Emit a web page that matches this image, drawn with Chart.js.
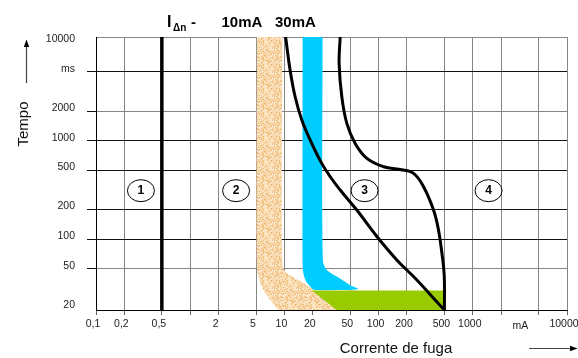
<!DOCTYPE html>
<html><head><meta charset="utf-8">
<script src="https://cdn.jsdelivr.net/npm/chart.js@4.4.1/dist/chart.umd.min.js"></script>
<style>html,body{margin:0;padding:0;background:#fff;}canvas{display:block;}</style>
</head><body>
<canvas id="c" width="578" height="358"></canvas>
<script>
// ---------- axis ticks ----------
const xTicks = [0.1, 0.2, 0.5, 1, 2, 5, 10, 20, 50, 100, 200, 500, 1000, 2000, 5000, 10000];
const xTickLabels = ['0,1', '0,2', '0,5', '', '2', '5', '10', '20', '50', '100', '200', '500', '1000', '', '', '10000'];
const yTicks = [20, 50, 100, 200, 500, 1000, 2000, 5000, 10000];
const yTickLabels = ['20', '50', '100', '200', '500', '1000', '2000', 'ms', '10000'];
const X_MIN = 0.1, X_MAX = 10000;   // mA
const Y_MIN = 19, Y_MAX = 11300;    // ms

// ---------- series (mA / ms) ----------
const limit05_mA = [0.5, 0.5];
const limit05_ms = [Y_MIN, Y_MAX];

const curveA_mA = [10.3, 11.5, 13.0, 15.3, 19.5, 24.9, 31.3, 39.1, 58.7, 95.9, 156, 255, 383, 500];
const curveA_ms = [Y_MAX, 5200, 2790, 1620, 937, 587, 417, 315, 197, 106, 61.3, 38.4, 25, Y_MIN];

const curveB_mA = [39.1, 38.1, 40.7, 46.0, 56.4, 75.1, 113, 169, 235, 300, 383, 432, 470, 497, 500];
const curveB_ms = [Y_MAX, 6085, 2788, 1497, 937, 660, 543, 508, 465, 340, 197, 124, 71.7, 43.2, Y_MIN];

const band10_mA = [5.1, 5.1, 5.42, 5.98, 7.05, 9.0, 39.1, 33.2, 26, 19.5, 14.1, 10.6, 9.5, 9.5];
const band10_ms = [Y_MAX, 52, 38.4, 30.4, 24.1, Y_MIN, Y_MIN, 21.4, 25, 31.6, 38.4, 44.9, 55, Y_MAX];

const band30_mA = [15.6, 15.6, 15.9, 16.8, 18.5, 20.5, 40, 61, 50, 36, 28.2, 25.6, 25.4];
const band30_ms = [Y_MAX, 55, 45, 38, 33.5, 30.6, 30.3, 31, 34, 41.5, 48.5, 60, Y_MAX];

const zoneGreen_mA = [19.5, 500, 500, 36];
const zoneGreen_ms = [30, 30, Y_MIN, Y_MIN];

const zoneNames = ['1', '2', '3', '4'];
const zoneX_mA = [0.3, 3.07, 71, 1470];
const zoneY_ms = 310;
const unitLabelX_mA = 3200;

// ---------- helpers ----------
const pts = (xs, ys) => xs.map((v, i) => ({x: v, y: ys[i]}));
const FONT = '"Liberation Sans", Arial, sans-serif';
const CLEAR = 'rgba(0,0,0,0)';

// sandy texture for the 10 mA band (fixed hash speckle, purely decorative)
function mix(i) {
  let h = Math.imul(i ^ 0x9e3779b9, 0x85ebca6b);
  h ^= h >>> 13;
  h = Math.imul(h, 0xc2b2ae35);
  h ^= h >>> 16;
  return h >>> 0;
}
function sandPattern() {
  const N = 24;
  const c = document.createElement('canvas');
  c.width = N; c.height = N;
  const g = c.getContext('2d');
  g.fillStyle = '#FBE4C4';
  g.fillRect(0, 0, N, N);
  const speck = ['#F1BE7A', '#F6CE98', '#EDB66E', '#F8D9AE'];
  for (let i = 0; i < N * N; i++) {
    const h = mix(i);
    if ((h & 255) < 130) {
      g.fillStyle = speck[(h >>> 8) & 3];
      g.fillRect(i % N, Math.floor(i / N), 1, 1);
    }
  }
  return g.createPattern(c, 'repeat');
}

const decor = {
  id: 'decor',
  afterDatasetsDraw(chart) {
    const {ctx, scales: {x, y}} = chart;
    ctx.save();
    ctx.strokeStyle = '#000';
    ctx.lineWidth = 1;
    ctx.fillStyle = '#000';
    ctx.font = 'bold 12px ' + FONT;
    ctx.textAlign = 'center';
    ctx.textBaseline = 'middle';
    zoneNames.forEach((n, i) => {
      const cx = x.getPixelForValue(zoneX_mA[i]);
      const cy = y.getPixelForValue(zoneY_ms);
      ctx.beginPath();
      ctx.ellipse(cx, cy, 13.5, 11, 0, 0, Math.PI * 2);
      ctx.stroke();
      ctx.fillText(n, cx, cy + 0.5);
    });
    ctx.restore();
  },
  afterDraw(chart) {
    const {ctx, scales: {x}} = chart;
    ctx.save();
    ctx.fillStyle = '#000';
    ctx.textBaseline = 'alphabetic';
    ctx.textAlign = 'left';
    // title
    ctx.font = 'bold 16px ' + FONT;
    ctx.fillText('I', 167, 27);
    ctx.font = 'bold 10px ' + FONT;
    ctx.fillText('\u0394n', 173, 31);
    ctx.font = 'bold 15px ' + FONT;
    ctx.fillText('-', 191, 27);
    ctx.fillText('10mA', 221.5, 27);
    ctx.fillText('30mA', 275, 27);
    // unit label
    ctx.font = '10.5px ' + FONT;
    ctx.fillStyle = '#222';
    ctx.textAlign = 'center';
    ctx.fillText('mA', x.getPixelForValue(unitLabelX_mA), 329);
    // x title
    ctx.font = '15px ' + FONT;
    ctx.fillStyle = '#111';
    ctx.fillText('Corrente de fuga', 396, 352.5);
    // y title
    ctx.save();
    ctx.translate(24, 124);
    ctx.rotate(-Math.PI / 2);
    ctx.textBaseline = 'middle';
    ctx.fillText('Tempo', 0, 0);
    ctx.restore();
    // arrows
    ctx.strokeStyle = '#444';
    ctx.lineWidth = 1.2;
    ctx.beginPath(); ctx.moveTo(26.5, 83); ctx.lineTo(26.5, 45); ctx.stroke();
    ctx.beginPath(); ctx.moveTo(26.5, 39.5); ctx.lineTo(23.8, 47); ctx.lineTo(29.2, 47); ctx.closePath(); ctx.fillStyle = '#000'; ctx.fill();
    ctx.beginPath(); ctx.moveTo(529, 348.5); ctx.lineTo(571, 348.5); ctx.stroke();
    ctx.beginPath(); ctx.moveTo(577.5, 348.5); ctx.lineTo(570, 345.8); ctx.lineTo(570, 351.2); ctx.closePath(); ctx.fill();
    ctx.restore();
  }
};

const lineDs = (data, w) => ({data, borderColor: '#000', borderWidth: w, fill: false, pointRadius: 0, tension: 0.4});
const areaDs = (data, color, tension) => ({data, borderColor: CLEAR, borderWidth: 0, backgroundColor: color, fill: 'shape', pointRadius: 0, tension});

new Chart(document.getElementById('c'), {
  type: 'line',
  data: {
    datasets: [
      lineDs(pts(curveA_mA, curveA_ms), 3),
      lineDs(pts(curveB_mA, curveB_ms), 3),
      Object.assign(lineDs(pts(limit05_mA, limit05_ms), 3.5), {tension: 0}),
      areaDs(pts(zoneGreen_mA, zoneGreen_ms), '#99CC00', 0),
      areaDs(pts(band30_mA, band30_ms), '#00CCFF', 0.3),
      areaDs(pts(band10_mA, band10_ms), sandPattern(), 0.3)
    ]
  },
  options: {
    responsive: false,
    animation: false,
    events: [],
    layout: {padding: {top: 37, right: 11, bottom: 0, left: 0}},
    plugins: {legend: {display: false}, tooltip: {enabled: false}, title: {display: false}},
    scales: {
      x: {
        type: 'logarithmic', min: X_MIN, max: X_MAX,
        afterBuildTicks: s => { s.ticks = xTicks.map(v => ({value: v})); },
        afterFit: s => { s.height = 48; s.paddingLeft = 0; s.paddingRight = 0; },
        grid: {
          color: c => (c.tick && c.tick.value === X_MIN) ? CLEAR : '#858585',
          tickColor: '#666', tickLength: 5, lineWidth: 1
        },
        border: {color: '#000', width: 1},
        ticks: {
          autoSkip: false, maxRotation: 0, minRotation: 0, padding: 3, labelOffset: -3, color: '#222',
          font: {family: FONT, size: 10.5},
          callback: (v, i) => xTickLabels[i] ?? ''
        }
      },
      y: {
        type: 'logarithmic', min: Y_MIN, max: Y_MAX,
        afterBuildTicks: s => { s.ticks = yTicks.concat([Y_MAX]).map(v => ({value: v})); },
        afterFit: s => { s.width = 96; },
        grid: {
          color: c => {
            if (!c.tick) return '#000';
            const v = c.tick.value;
            if (v === 20 || v === 10000) return CLEAR;
            if (v === Y_MAX || v === 2000 || v === 50) return '#858585';
            return '#111';
          },
          tickColor: c => {
            if (!c.tick) return '#000';
            const v = c.tick.value;
            return (v === 20 || v === 10000 || v === Y_MAX) ? CLEAR : '#111';
          },
          tickLength: 9, lineWidth: 1
        },
        border: {color: '#000', width: 1},
        ticks: {
          autoSkip: false, padding: 12, labelOffset: -3, color: '#222',
          font: {family: FONT, size: 10.5},
          callback: (v, i) => yTickLabels[i] ?? ''
        }
      }
    }
  },
  plugins: [decor]
});
</script>
</body></html>
